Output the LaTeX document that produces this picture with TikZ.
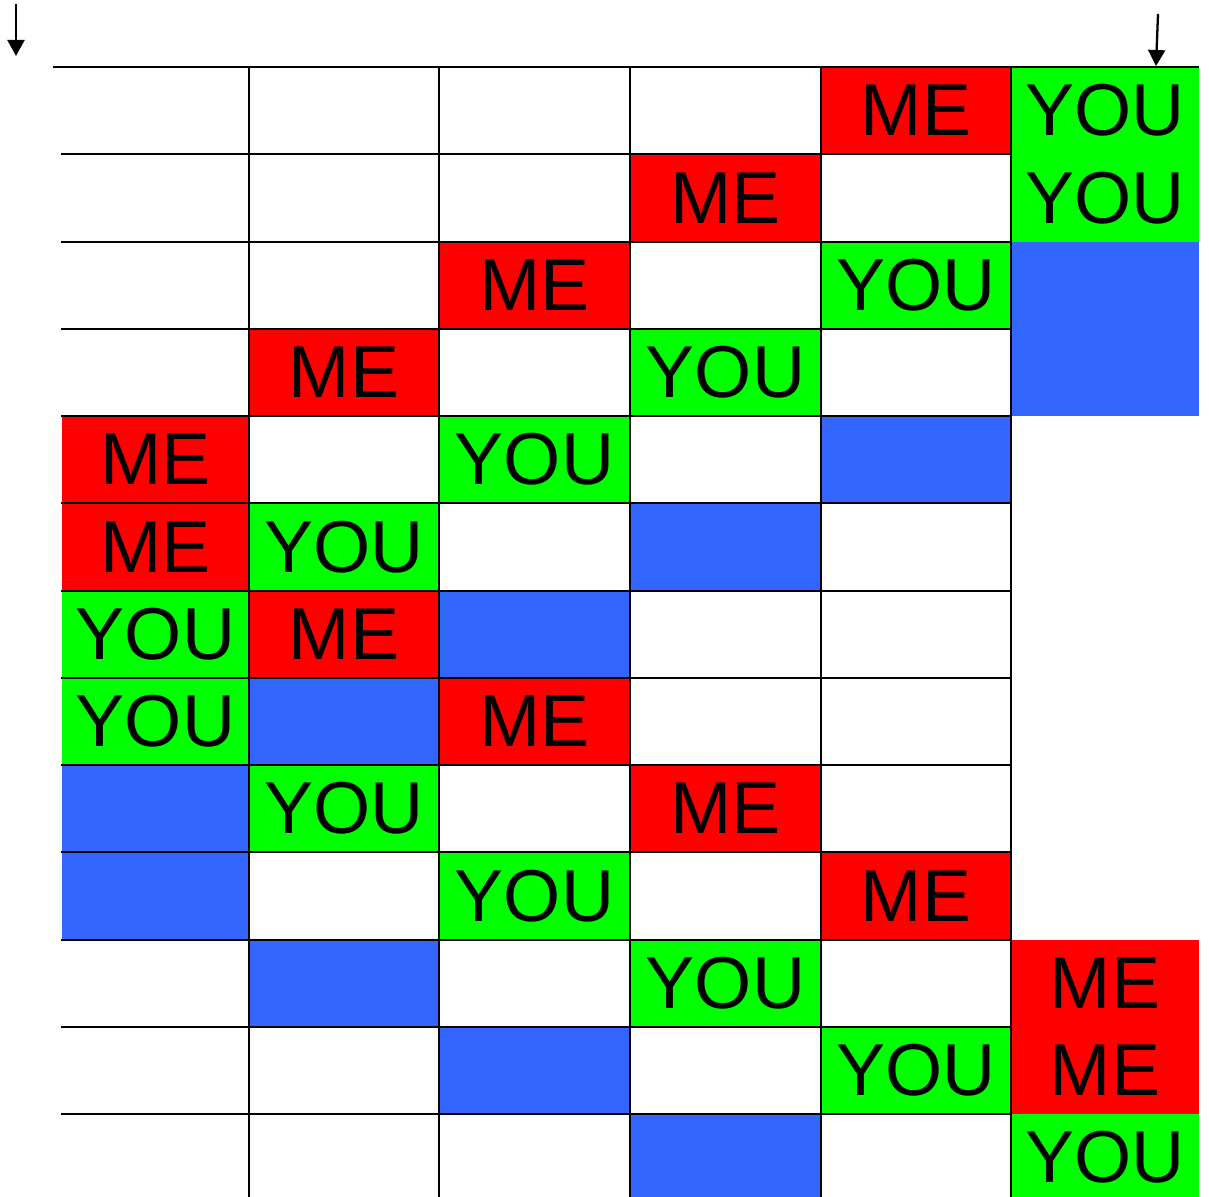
\documentclass[tikz,border=0pt]{standalone}
\usepackage{fontspec}
\setmainfont{Liberation Sans}
\usetikzlibrary{arrows.meta}
\definecolor{mered}{HTML}{FF0000}
\definecolor{yougreen}{HTML}{00FF00}
\definecolor{freeblue}{HTML}{3366FF}
\begin{document}
\begin{tikzpicture}[x=1pt,y=-1pt,
  me/.style={fill=mered},
  you/.style={fill=yougreen},
  blank/.style={fill=freeblue},
  gridline/.style={line width=2pt,black},
  pointer/.style={line width=2.3pt,-{Triangle[width=17pt,length=16pt]}},
  cellbox/.style={draw=none,inner sep=0pt,outer sep=0pt,anchor=north west,
    font=\fontsize{73.5}{73.5}\selectfont}]
\useasboundingbox (0,0) rectangle (1209,1196);
% cells
\foreach \r/\c/\s/\t [count=\k] in {
  1/5/me/ME, 1/6/you/YOU,
  2/4/me/ME, 2/6/you/YOU,
  3/3/me/ME, 3/5/you/YOU, 3/6/blank/{},
  4/2/me/ME, 4/4/you/YOU, 4/6/blank/{},
  5/1/me/ME, 5/3/you/YOU, 5/5/blank/{},
  6/1/me/ME, 6/2/you/YOU, 6/4/blank/{},
  7/1/you/YOU, 7/2/me/ME, 7/3/blank/{},
  8/1/you/YOU, 8/2/blank/{}, 8/3/me/ME,
  9/1/blank/{}, 9/2/you/YOU, 9/4/me/ME,
  10/1/blank/{}, 10/3/you/YOU, 10/5/me/ME,
  11/2/blank/{}, 11/4/you/YOU, 11/6/me/ME,
  12/3/blank/{}, 12/5/you/YOU, 12/6/me/ME,
  13/4/blank/{}, 13/6/you/YOU}{
  \pgfmathsetmacro\xl{{62,249,439,630,821,1011,1199}[\c-1]}
  \pgfmathsetmacro\xr{{62,249,439,630,821,1011,1199}[\c]}
  \pgfmathsetmacro\yt{67+87.25*(\r-1)}
  \pgfmathsetmacro\w{\xr-\xl}
  \node[cellbox,\s,minimum width=\w pt,minimum height=87.25pt] (cell\k) at (\xl,\yt) {\t};
}
% grid lines
\draw[gridline] (53,67) -- (1199,67);
\foreach \i in {1,...,12}{
  \draw[gridline] (61,{67+87.25*\i}) -- (1011,{67+87.25*\i});
}
\foreach \x in {249,439,630,821,1011}{
  \draw[gridline] (\x,67) -- (\x,1200);
}
% arrows
\coordinate (lstart) at (16,4);
\coordinate (lend) at (16,56);
\coordinate (rstart) at (1158,14);
\coordinate (rend) at (1156,66);
\draw[pointer] (lstart) -- (lend);
\draw[pointer] (rstart) -- (rend);
\end{tikzpicture}
\end{document}
